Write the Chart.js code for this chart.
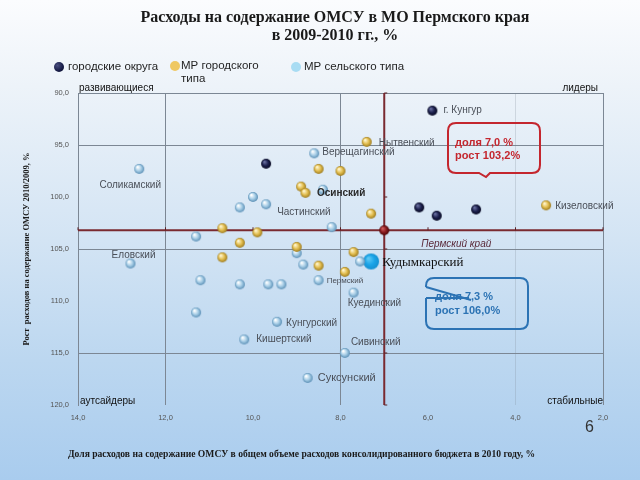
<!DOCTYPE html>
<html lang="ru">
<head>
<meta charset="utf-8">
<script src="https://cdn.jsdelivr.net/npm/chart.js@4.4.0/dist/chart.umd.min.js"></script>
<style>
  html, body { margin: 0; padding: 0; }
  body {
    width: 640px; height: 480px; overflow: hidden; position: relative;
    background: linear-gradient(to bottom, #fbfcfe 0%, #edf3f9 18%, #d3e4f4 50%, #bcd7f0 75%, #a9ccee 100%);
    font-family: "Liberation Sans", Arial, sans-serif;
  }
  #wrap { position: absolute; left: 0; top: 0; width: 640px; height: 480px; }
  .title {
    position: absolute; left: 0; width: 670px; text-align: center;
    font-family: "Liberation Serif", "Times New Roman", serif; font-weight: bold;
    font-size: 16px; color: #1a1a1a;
  }
  .lg { position: absolute; font-size: 11.5px; color: #1f1f1f; line-height: 13px; }
  .dot { position: absolute; width: 10px; height: 10px; border-radius: 50%; }
  #xtitle {
    position: absolute; left: 68px; top: 448px;
    font-family: "Liberation Serif", "Times New Roman", serif; font-weight: bold;
    font-size: 9.6px; color: #1a1a1a; white-space: nowrap;
  }
  #page { position: absolute; left: 585px; top: 418px; font-size: 16px; color: #333; }
</style>
</head>
<body>
<div id="wrap"><canvas id="chartOmsu"></canvas></div>

<div class="title" style="top:8px">Расходы на содержание ОМСУ в МО Пермского края</div>
<div class="title" style="top:26px">в 2009-2010 гг., %</div>

<div class="dot" style="left:54px;top:62px;background:radial-gradient(circle at 35% 35%,#4a4f80,#151a45 60%,#0a0c25)"></div>
<div class="lg" style="left:68px;top:60px">городские округа</div>
<div class="dot" style="left:170px;top:61px;background:#efc862"></div>
<div class="lg" style="left:181px;top:59px">МР городского<br>типа</div>
<div class="dot" style="left:291px;top:62px;background:#a8dcf3"></div>
<div class="lg" style="left:304px;top:60px">МР сельского типа</div>

<div id="xtitle">Доля расходов на содержание ОМСУ в общем объеме расходов консолидированного бюджета в 2010 году, %</div>
<div id="page">6</div>

<script>
// городские округа
const okrugX = [5.9, 9.7, 6.2, 5.8, 4.9];
const okrugY = [91.7, 96.8, 101.0, 101.8, 101.2];
const okrugNames = ['г. Кунгур', '', '', '', ''];

// МР городского типа
const gorodX = [7.4, 3.3, 8.5, 8.0, 8.9, 8.8, 7.3, 10.7, 9.9, 10.3, 9.0, 10.7, 8.5, 7.9, 7.7];
const gorodY = [94.7, 100.8, 97.3, 97.5, 99.0, 99.6, 101.6, 103.0, 103.4, 104.4, 104.8, 105.8, 106.6, 107.2, 105.3];
const gorodNames = ['Нытвенский', 'Кизеловский', '', '', '', '', '', '', '', '', '', '', '', '', ''];

// МР сельского типа
const selX = [12.6, 8.6, 8.4, 10.0, 10.3, 9.7, 8.2, 11.3, 12.8, 9.0, 8.85, 11.2, 10.3, 9.65, 9.35, 8.5, 7.7, 11.3, 9.45, 10.2, 7.9, 8.75, 7.55];
const selY = [97.3, 95.8, 99.3, 100.0, 101.0, 100.7, 102.9, 103.8, 106.4, 105.4, 106.5, 108.0, 108.4, 108.4, 108.4, 108.0, 109.2, 111.1, 112.0, 113.7, 115.0, 117.4, 106.2];
const selNames = ['Соликамский', 'Верещагинский', 'Осинский', '', '', 'Частинский', '', '', 'Еловский', '', '', '', '', '', '',
  'Пермский', 'Куединский', '', 'Кунгурский', 'Кишертский', 'Сивинский', 'Суксунский', ''];

// выделенный район
const kudX = [7.3];
const kudY = [106.2];
const kudNames = ['Кудымкарский'];

// Пермский край (среднее)
const permX = [7.0];
const permY = [103.2];
const permNames = ['Пермский край'];

const xTickLabels = ['14,0', '12,0', '10,0', '8,0', '6,0', '4,0', '2,0'];
const xTickValues = [14, 12, 10, 8, 6, 4, 2];
const yTickLabels = ['90,0', '95,0', '100,0', '105,0', '110,0', '115,0', '120,0'];
const yTickValues = [90, 95, 100, 105, 110, 115, 120];

function toPoints(xs, ys) {
  return xs.map((x, i) => ({ x: x, y: ys[i] }));
}

// шарики с бликом
function sphere(r, c1, c2, c3) {
  const s = r * 2 + 2;
  const cv = document.createElement('canvas');
  cv.width = s; cv.height = s;
  const g = cv.getContext('2d');
  const grad = g.createRadialGradient(s / 2 - r * 0.35, s / 2 - r * 0.4, r * 0.1, s / 2, s / 2, r);
  grad.addColorStop(0, c1);
  grad.addColorStop(0.55, c2);
  grad.addColorStop(1, c3);
  g.fillStyle = grad;
  g.beginPath();
  g.arc(s / 2, s / 2, r, 0, Math.PI * 2);
  g.fill();
  return cv;
}
const ballNavy = sphere(5, '#6a70a0', '#1b1f4c', '#080a22');
const ballGold = sphere(5, '#fff6cf', '#e2bd4e', '#9c7a1e');
const ballBlue = sphere(5, '#ffffff', '#a6cde6', '#5b8fb5');
const ballRed = sphere(5, '#d06060', '#8a1a1f', '#4a0808');
const ballKud = sphere(8, '#5cc8f5', '#1aa4e8', '#1590d0');

// подписи точек: смещения и стиль
const labelStyle = {
  'г. Кунгур': { dx: 11, dy: 0 },
  'Нытвенский': { dx: 12, dy: 1 },
  'Кизеловский': { dx: 9, dy: 1 },
  'Верещагинский': { dx: 8, dy: -1 },
  'Соликамский': { dx: -9, dy: 16, align: 'center' },
  'Осинский': { dx: -6, dy: 4, bold: true },
  'Частинский': { dx: 11, dy: 8 },
  'Еловский': { dx: 3, dy: -8, align: 'center' },
  'Пермский': { dx: 8, dy: 1, size: 8 },
  'Куединский': { dx: -6, dy: 11 },
  'Кунгурский': { dx: 9, dy: 1 },
  'Кишертский': { dx: 12, dy: 0 },
  'Сивинский': { dx: 6, dy: -11 },
  'Суксунский': { dx: 10, dy: 0, size: 11 },
  'Кудымкарский': { dx: 11, dy: 1, serif: true },
  'Пермский край': { dx: 72, dy: 14, align: 'center', italic: true }
};

const crossPlugin = {
  id: 'cross',
  beforeDatasetsDraw(chart) {
    const { ctx, chartArea: a, scales: { x, y } } = chart;
    const cx = x.getPixelForValue(permX[0]);
    const cy = y.getPixelForValue(permY[0]);
    ctx.save();
    ctx.strokeStyle = '#7a2a30';
    ctx.lineWidth = 2;
    ctx.beginPath();
    ctx.moveTo(a.left, cy); ctx.lineTo(a.right, cy);
    ctx.moveTo(cx, a.top); ctx.lineTo(cx, a.bottom);
    ctx.stroke();
    ctx.lineWidth = 1;
    ctx.strokeStyle = '#5a2025';
    ctx.beginPath();
    xTickValues.forEach(v => { const px = x.getPixelForValue(v); ctx.moveTo(px, cy); ctx.lineTo(px, cy - 3); });
    yTickValues.forEach(v => { const py = y.getPixelForValue(v); ctx.moveTo(cx, py); ctx.lineTo(cx + 3, py); });
    ctx.stroke();
    ctx.restore();
  },
  afterDatasetsDraw(chart) {
    const { ctx, chartArea: a } = chart;
    ctx.save();
    // подписи точек
    chart.data.datasets.forEach((ds, di) => {
      const meta = chart.getDatasetMeta(di);
      (ds.names || []).forEach((name, i) => {
        if (!name) return;
        const st = labelStyle[name] || { dx: 8, dy: 0 };
        const el = meta.data[i];
        let font = (st.italic ? 'italic ' : '') + (st.bold ? 'bold ' : '') + (st.size || 10) + 'px "Liberation Sans", Arial, sans-serif';
        let color = st.bold ? '#2a2a2a' : '#4a4f58';
        if (st.serif) { font = '13px "Liberation Serif", "Times New Roman", serif'; color = '#111'; }
        if (st.italic) color = '#5a2a3a';
        ctx.font = font;
        ctx.fillStyle = color;
        ctx.textAlign = st.align || 'left';
        ctx.textBaseline = 'middle';
        ctx.fillText(name, el.x + st.dx, el.y + st.dy);
      });
    });

    // квадранты
    ctx.font = '10px "Liberation Sans", Arial, sans-serif';
    ctx.fillStyle = '#111';
    ctx.textBaseline = 'middle';
    ctx.textAlign = 'left';
    ctx.fillText('развивающиеся', a.left + 1, a.top - 5);
    ctx.fillText('аутсайдеры', a.left + 2, a.bottom - 4);
    ctx.textAlign = 'right';
    ctx.fillText('лидеры', a.right - 5, a.top - 5);
    ctx.fillText('стабильные', a.right, a.bottom - 4);

    // выноски
    const r = 8;
    // красная
    let L = a.left + 370, T = a.top + 30, R = a.left + 462, B = a.top + 80;
    ctx.strokeStyle = '#c4262e';
    ctx.lineWidth = 2;
    ctx.beginPath();
    ctx.moveTo(L + r, T);
    ctx.lineTo(R - r, T); ctx.quadraticCurveTo(R, T, R, T + r);
    ctx.lineTo(R, B - r); ctx.quadraticCurveTo(R, B, R - r, B);
    ctx.lineTo(L + 42, B); ctx.lineTo(L + 38, B + 4); ctx.lineTo(L + 31, B);
    ctx.lineTo(L + r, B); ctx.quadraticCurveTo(L, B, L, B - r);
    ctx.lineTo(L, T + r); ctx.quadraticCurveTo(L, T, L + r, T);
    ctx.stroke();
    ctx.font = 'bold 11px "Liberation Sans", Arial, sans-serif';
    ctx.fillStyle = '#c4262e';
    ctx.textAlign = 'left';
    ctx.fillText('доля 7,0 %', L + 7, T + 20);
    ctx.fillText('рост 103,2%', L + 7, T + 33);

    // синяя
    L = a.left + 348; T = a.top + 185; R = a.left + 450; B = a.top + 236;
    ctx.strokeStyle = '#2c73b4';
    ctx.beginPath();
    ctx.moveTo(L, T + 9);
    ctx.lineTo(L, T + r); ctx.quadraticCurveTo(L, T, L + r, T);
    ctx.lineTo(R - r, T); ctx.quadraticCurveTo(R, T, R, T + r);
    ctx.lineTo(R, B - r); ctx.quadraticCurveTo(R, B, R - r, B);
    ctx.lineTo(L + r, B); ctx.quadraticCurveTo(L, B, L, B - r);
    ctx.lineTo(L, T + 20);
    ctx.moveTo(L, T + 9); ctx.lineTo(L + 45, T + 22);
    ctx.moveTo(L, T + 20); ctx.lineTo(L + 43, T + 20);
    ctx.stroke();
    ctx.fillStyle = '#2c73b4';
    ctx.fillText('доля 7,3 %', L + 9, T + 19);
    ctx.fillText('рост 106,0%', L + 9, T + 33);
    ctx.restore();
  }
};

const ctxOmsu = document.getElementById('chartOmsu').getContext('2d');
const chartOmsu = new Chart(ctxOmsu, {
  type: 'scatter',
  data: {
    datasets: [
      { label: 'Пермский край', data: toPoints(permX, permY), names: permNames, pointStyle: ballRed, pointRadius: 5 },
      { label: 'городские округа', data: toPoints(okrugX, okrugY), names: okrugNames, pointStyle: ballNavy, pointRadius: 5 },
      { label: 'МР городского типа', data: toPoints(gorodX, gorodY), names: gorodNames, pointStyle: ballGold, pointRadius: 5 },
      { label: 'МР сельского типа', data: toPoints(selX, selY), names: selNames, pointStyle: ballBlue, pointRadius: 5 },
      { label: 'Кудымкарский', data: toPoints(kudX, kudY), names: kudNames, pointStyle: ballKud, pointRadius: 8 }
    ]
  },
  options: {
    responsive: true,
    maintainAspectRatio: false,
    animation: false,
    layout: { padding: { top: 93, right: 37, left: 22, bottom: 20 } },
    plugins: {
      legend: { display: false },
      tooltip: { enabled: false }
    },
    scales: {
      x: {
        type: 'linear',
        reverse: true,
        min: 2, max: 14,
        afterBuildTicks(scale) { scale.ticks = xTickValues.map(v => ({ value: v })); },
        afterFit(scale) { scale.height = 55; },
        ticks: {
          padding: 8,
          color: '#555',
          font: { size: 7.5, family: '"Liberation Sans", Arial, sans-serif' },
          callback: v => xTickLabels[xTickValues.indexOf(v)]
        },
        grid: {
          drawTicks: false,
          color: c => ([12, 8, 2].includes(c.tick.value) ? '#7c8794' : (c.tick.value === 4 ? 'rgba(124,135,148,0.25)' : 'rgba(0,0,0,0)'))
        },
        border: { display: false }
      },
      y: {
        reverse: true,
        min: 90, max: 120,
        afterBuildTicks(scale) { scale.ticks = yTickValues.map(v => ({ value: v })); },
        afterFit(scale) { scale.width = 56; },
        ticks: {
          padding: 9,
          color: '#555',
          font: { size: 7.5, family: '"Liberation Sans", Arial, sans-serif' },
          callback: v => yTickLabels[yTickValues.indexOf(v)]
        },
        grid: {
          drawTicks: false,
          color: c => ([90, 95, 105, 115].includes(c.tick.value) ? '#7c8794' : 'rgba(0,0,0,0)')
        },
        border: { display: true, color: '#7c8794' },
        title: {
          display: true,
          text: 'Рост  расходов на содержание ОМСУ 2010/2009, %',
          color: '#1a1a1a',
          font: { size: 8.5, weight: 'bold', family: '"Liberation Serif", "Times New Roman", serif' },
          padding: { top: 0, bottom: 0 }
        }
      }
    }
  },
  plugins: [crossPlugin]
});
</script>
</body>
</html>
